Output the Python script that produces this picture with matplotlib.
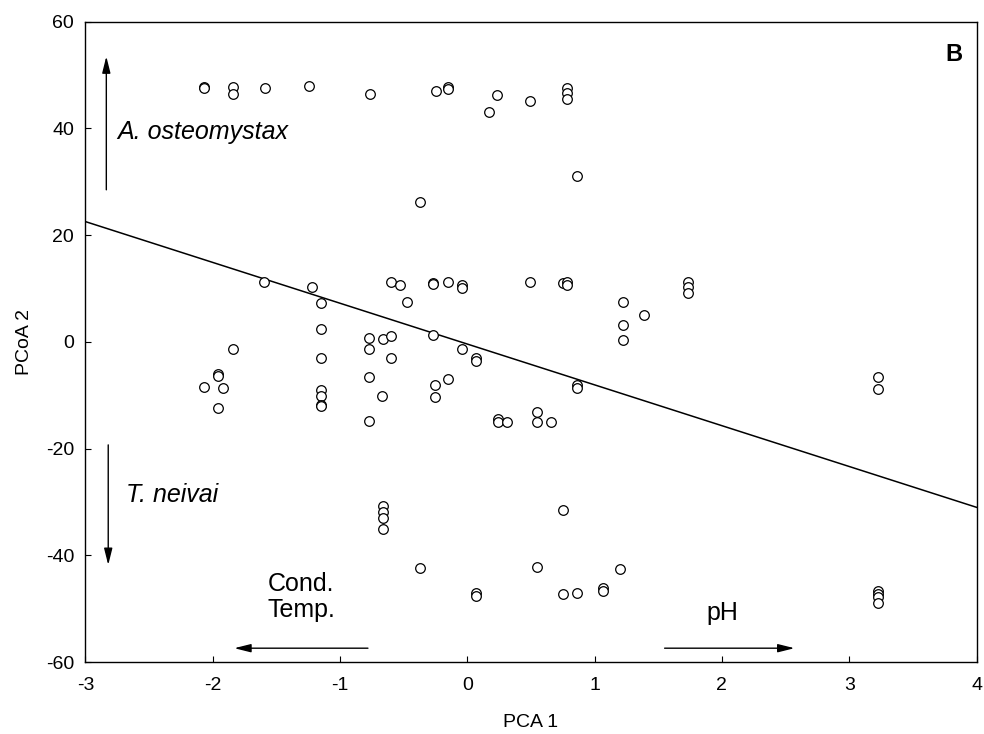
import matplotlib
matplotlib.use("Agg")
import matplotlib.pyplot as plt
import numpy as np

plt.rcParams['font.family'] = ['Liberation Sans', 'DejaVu Sans']
plt.rcParams['axes.unicode_minus'] = False

# sample scores (PCA 1 vs PCoA 2)
pca1 = [-2.07, -2.07, -1.84, -1.84, -1.59, -1.24, -0.76, -0.245, -0.15, -0.15,
        0.17, 0.23, 0.49, 0.78, 0.78, 0.78, -0.37, 0.86,
        -1.60, -1.22, -1.15, -1.15, -1.15, -1.15, -1.15, -1.15, -1.15,
        -1.84, -1.96, -1.96, -2.07, -1.92, -1.96,
        -0.60, -0.53, -0.475, -0.27, -0.27, -0.15, -0.04, -0.04, 0.49,
        -0.77, -0.77, -0.77, -0.77, -0.66, -0.60, -0.60, -0.67,
        -0.27, -0.04, 0.07, 0.07, -0.25, -0.25, -0.15,
        0.24, 0.24, 0.31, 0.55, 0.55, 0.66,
        0.75, 0.78, 0.78, 1.73, 1.73, 1.73, 1.22, 1.22, 1.22, 1.39,
        0.86, 0.86, 3.23, 3.23,
        -0.66, -0.66, -0.66, -0.66, -0.37, 0.07, 0.07, 0.55, 0.75, 0.75,
        0.86, 1.07, 1.07, 1.20, 3.23, 3.23, 3.23, 3.23]
pcoa2 = [47.8, 47.5, 47.7, 46.5, 47.6, 48.0, 46.5, 47.0, 47.7, 47.3,
         43.0, 46.2, 45.1, 47.6, 46.7, 45.5, 26.3, 31.1,
         11.3, 10.3, 7.3, 2.4, -3.1, -9.1, -10.1, -11.8, -12.1,
         -1.3, -6.1, -6.4, -8.5, -8.7, -12.3,
         11.3, 10.6, 7.4, 11.1, 10.8, 11.3, 10.6, 10.1, 11.2,
         0.8, -1.4, -6.5, -14.8, 0.6, 1.1, -3.1, -10.1,
         1.2, -1.3, -3.1, -3.6, -8.1, -10.4, -7.0,
         -14.5, -15.1, -15.1, -13.1, -15.1, -15.0,
         11.0, 11.2, 10.6, 11.3, 10.3, 9.1, 7.4, 3.1, 0.4, 5.1,
         -8.0, -8.6, -6.5, -8.8,
         -30.8, -31.8, -33.0, -35.1, -42.3, -47.0, -47.6, -42.2, -31.5, -47.3,
         -47.0, -46.2, -46.7, -42.6, -46.7, -47.2, -47.8, -49.0]

# fitted line
intercept = -0.4
slope = -7.65

fig = plt.figure(figsize=(9.84, 7.34), dpi=100)
ax = fig.add_axes([0.0867, 0.098, 0.9057, 0.8724])

ax.scatter(pca1, pcoa2, s=48, facecolors='white', edgecolors='black',
           linewidths=0.9, zorder=3)

xl = np.array([-3, 4])
ax.plot(xl, intercept + slope * xl, color='black', lw=1.1, zorder=2)

ax.set_xlim(-3, 4)
ax.set_ylim(-60, 60)
ax.set_xticks(range(-3, 5))
ax.set_yticks(range(-60, 61, 20))
ax.tick_params(direction='in', length=4, width=0.8, labelsize=14)
ax.tick_params(axis='x', pad=11)
ax.tick_params(axis='y', pad=8)
for s in ax.spines.values():
    s.set_linewidth(1.0)

ax.set_xlabel('PCA 1', fontsize=14, labelpad=14)
ax.set_ylabel('PCoA 2', fontsize=14, labelpad=9)

arr = dict(arrowstyle='-|>,head_length=1.0,head_width=0.25', color='black',
           lw=1.0, shrinkA=0, shrinkB=0)

# species arrows
ax.annotate('', xy=(-2.835, 53.5), xytext=(-2.835, 28.5), arrowprops=arr)
ax.text(-2.75, 39.4, 'A. osteomystax', fontsize=18, style='italic',
        ha='left', va='center')
ax.annotate('', xy=(-2.82, -41.8), xytext=(-2.82, -19.3), arrowprops=arr)
ax.text(-2.68, -28.7, 'T. neivai', fontsize=18, style='italic',
        ha='left', va='center')

# environmental arrows
ax.annotate('', xy=(-1.83, -57.4), xytext=(-0.78, -57.4), arrowprops=arr)
ax.text(-1.57, -47.8, 'Cond.\nTemp.', fontsize=18, ha='left', va='center',
        linespacing=1.1)
ax.annotate('', xy=(2.57, -57.4), xytext=(1.55, -57.4), arrowprops=arr)
ax.text(1.88, -50.8, 'pH', fontsize=18, ha='left', va='center')

ax.text(3.82, 53.8, 'B', fontsize=17, fontweight='bold', ha='center', va='center')

fig.savefig('out.png', dpi=100)
